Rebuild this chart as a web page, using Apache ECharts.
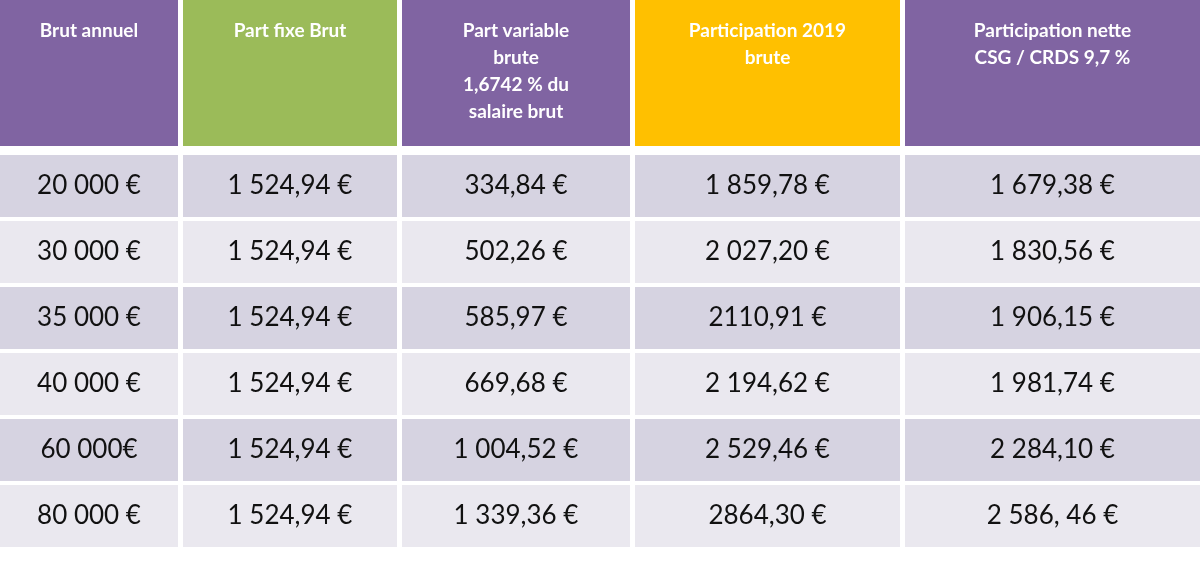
<!DOCTYPE html><html><head><meta charset="utf-8"><script src="https://cdn.jsdelivr.net/npm/echarts@6/dist/echarts.min.js"></script>
<style>html,body{margin:0;background:#fff}#c{width:1200px;height:561px}</style></head><body><div id="c"></div><script>
const headers=["Brut annuel","Part fixe Brut","Part variable\nbrute\n1,6742 % du\nsalaire brut","Participation 2019\nbrute","Participation nette\nCSG / CRDS 9,7 %"];
const brut=["20 000 €","30 000 €","35 000 €","40 000 €","60 000€","80 000 €"];
const fixe=["1 524,94 €","1 524,94 €","1 524,94 €","1 524,94 €","1 524,94 €","1 524,94 €"];
const variable=["334,84 €","502,26 €","585,97 €","669,68 €","1 004,52 €","1 339,36 €"];
const participation=["1 859,78 €","2 027,20 €","2110,91 €","2 194,62 €","2 529,46 €","2864,30 €"];
const nette=["1 679,38 €","1 830,56 €","1 906,15 €","1 981,74 €","2 284,10 €","2 586, 46 €"];
const colEdges=[[0,178],[183,397],[402,630],[635,900],[905,1200]];
const headerColors=["#8064A2","#9BBB59","#8064A2","#FFC000","#8064A2"];
const cols=[brut,fixe,variable,participation,nette];
const data=[];
headers.forEach((h,c)=>data.push([c,-1,h]));
cols.forEach((arr,c)=>arr.forEach((v,r)=>data.push([c,r,v])));
const chart=echarts.init(document.getElementById('c'));
chart.setOption({animation:false,
grid:{left:0,right:0,top:0,bottom:0},
xAxis:{type:'value',min:0,max:1200,show:false},
yAxis:{type:'value',min:0,max:561,inverse:true,show:false},
series:[{type:'custom',data:data,renderItem:function(p,api){
 const c=api.value(0),r=api.value(1),t=data[p.dataIndex][2];
 const e=colEdges[c];
 let y0,y1;
 if(r<0){y0=0;y1=146;}else{y0=155+r*66;y1=y0+62;}
 const a=api.coord([e[0],y0]),b=api.coord([e[1],y1]);
 const head=r<0;
 const fill=head?headerColors[c]:(r%2===0?"#D6D3E1":"#EAE8EF");
 return {type:'group',children:[
  {type:'rect',shape:{x:a[0],y:a[1],width:b[0]-a[0],height:b[1]-a[1]},style:{fill:fill}},
  {type:'text',x:(a[0]+b[0])/2,y:head?a[1]+17:(a[1]+b[1])/2,style:{text:t,fill:head?'#fff':'#111',
   font:head?'bold 19px Lato':'26px Lato',align:'center',verticalAlign:head?'top':'middle',lineHeight:head?27:30}}
 ]};
}}]});
</script></body></html>
